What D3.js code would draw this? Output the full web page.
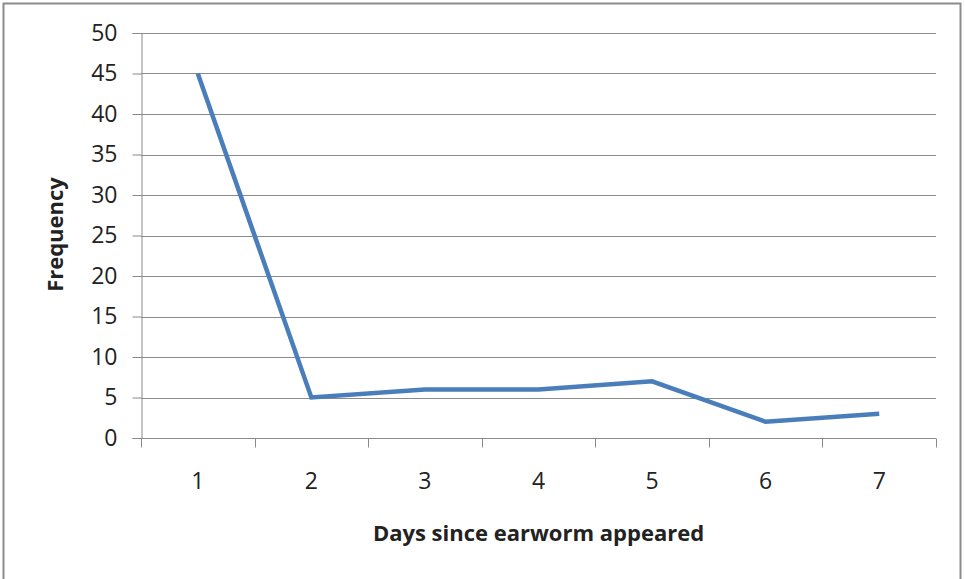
<!DOCTYPE html>
<html lang="en">
<head>
	<meta charset="utf-8" />
	<title>Earworm days</title>
	<script src="https://d3js.org/d3.v7.min.js"></script>
	<style>
		body { margin: 0; background: #fff; }
		text { font-family: "Open Sans", sans-serif; fill: #222; }
	</style>
</head>
<body>
	<div id="chart"></div>
	<script>
		// data
		var days = ["1", "2", "3", "4", "5", "6", "7"];
		var frequency = [45, 5, 6, 6, 7, 2, 3];
		var yTicks = [0, 5, 10, 15, 20, 25, 30, 35, 40, 45, 50];

		var W = 965, H = 579;
		var margin = { top: 33, right: 29, bottom: 141, left: 141 },
			width = W - margin.left - margin.right,
			height = H - margin.top - margin.bottom;

		var root = d3.select("#chart").append("svg")
			.attr("width", W)
			.attr("height", H);

		// outer frame
		root.append("rect")
			.attr("x", 3.5).attr("y", 3.5)
			.attr("width", 957).attr("height", 590)
			.attr("fill", "none")
			.attr("stroke", "#8c8c8c")
			.attr("stroke-width", 2);

		var svg = root.append("g")
			.attr("transform", "translate(" + margin.left + "," + margin.top + ")");

		var x = d3.scaleBand().domain(days).range([0, width]);
		var y = d3.scaleLinear().domain([0, 50]).range([height, 0]);

		// gridlines
		svg.append("g")
			.selectAll("line")
			.data(yTicks.filter(function(d) { return d > 0; }))
			.enter().append("line")
			.attr("x1", 0).attr("x2", width)
			.attr("y1", function(d) { return Math.round(y(d)) + 0.5; })
			.attr("y2", function(d) { return Math.round(y(d)) + 0.5; })
			.attr("stroke", "#8a8a8a")
			.attr("stroke-width", 1);

		// y axis
		var yAxis = svg.append("g")
			.attr("transform", "translate(0.5,0)")
			.call(d3.axisLeft(y).tickValues(yTicks).tickSize(9).tickPadding(15));
		yAxis.attr("font-size", null).attr("font-family", null);
		yAxis.selectAll("line").attr("stroke", "#8a8a8a");
		yAxis.select(".domain").attr("stroke", "#8a8a8a");
		yAxis.selectAll("text")
			.attr("font-size", 23)
			.style("font-size", "23px")
			.attr("fill", "#222");

		// x axis: ticks at band edges, labels at band centres
		var xAxisG = svg.append("g")
			.attr("transform", "translate(0," + (Math.round(height) + 0.5) + ")");
		xAxisG.append("line")
			.attr("x1", 0).attr("x2", width)
			.attr("stroke", "#8a8a8a");
		var edges = days.map(function(d) { return x(d); }).concat([width]);
		xAxisG.selectAll(".xt")
			.data(edges)
			.enter().append("line")
			.attr("class", "xt")
			.attr("x1", function(d) { return Math.round(d) + 0.5; })
			.attr("x2", function(d) { return Math.round(d) + 0.5; })
			.attr("y1", 0).attr("y2", 9)
			.attr("stroke", "#8a8a8a");
		xAxisG.selectAll(".xl")
			.data(days)
			.enter().append("text")
			.attr("class", "xl")
			.attr("x", function(d) { return x(d) + x.bandwidth() / 2; })
			.attr("y", 50)
			.attr("text-anchor", "middle")
			.style("font-size", "23px")
			.text(function(d) { return d; });

		// the line
		var line = d3.line()
			.x(function(d, i) { return x(days[i]) + x.bandwidth() / 2; })
			.y(function(d) { return y(d); });
		svg.append("path")
			.datum(frequency)
			.attr("d", line)
			.attr("fill", "none")
			.attr("stroke", "#4a7ebb")
			.attr("stroke-width", 4.5)
			.attr("stroke-linejoin", "miter");

		// axis titles
		svg.append("text")
			.attr("x", width / 2)
			.attr("y", height + 103)
			.attr("text-anchor", "middle")
			.style("font-size", "22px")
			.style("font-weight", "bold")
			.text("Days since earworm appeared");

		svg.append("text")
			.attr("transform", "translate(-78," + (height / 2 - 1) + ") rotate(-90)")
			.attr("text-anchor", "middle")
			.style("font-size", "22px")
			.style("font-weight", "bold")
			.text("Frequency");
	</script>
</body>
</html>
